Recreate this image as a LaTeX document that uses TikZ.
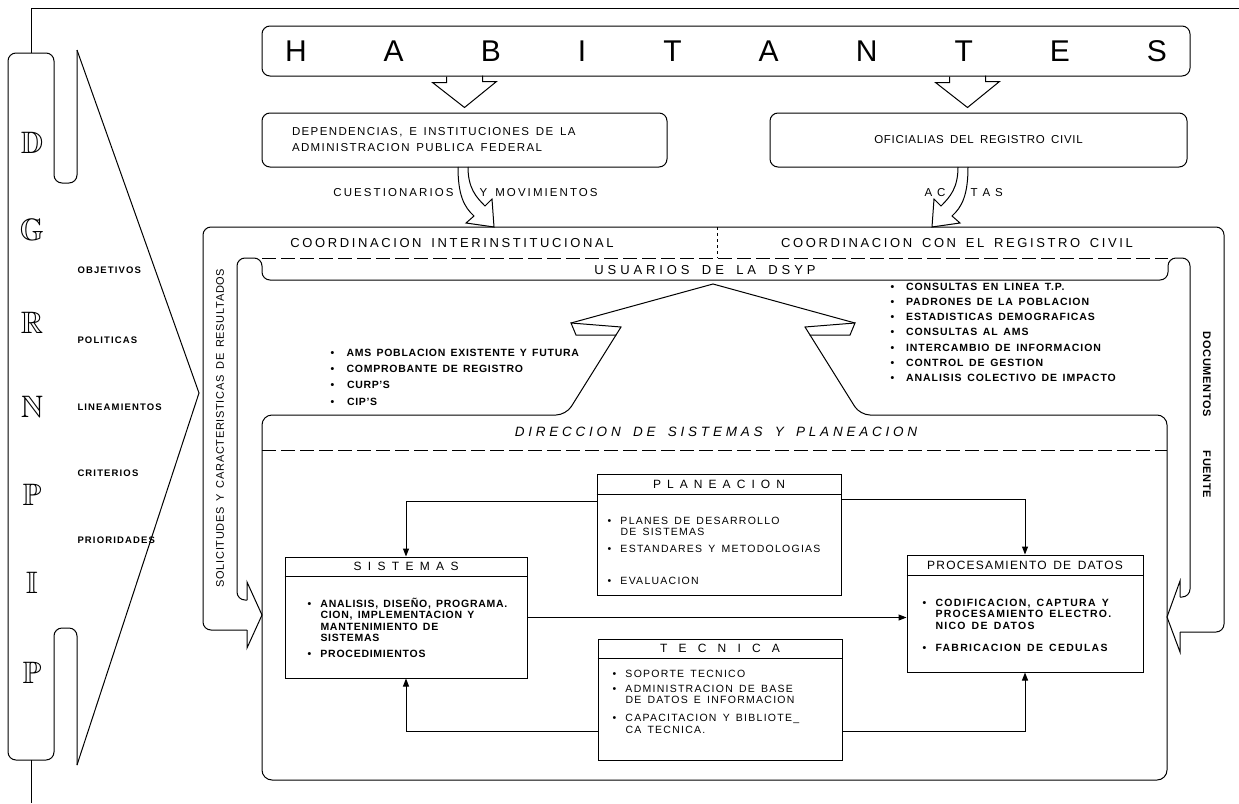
\documentclass[tikz,border=0pt]{standalone}
\usepackage{amssymb}
\usepackage{fontspec}
\setmainfont{Liberation Sans}[LetterSpace=6,WordSpace=1.6]
\usetikzlibrary{arrows.meta}
\usetikzlibrary{calc}

\newcommand{\bul}[1][13pt]{\rule{0pt}{9pt}\makebox[#1][l]{\textbullet}}
\newcommand{\ind}[1][13pt]{\rule{0pt}{9pt}\hspace*{#1}}
\newcommand{\ls}[1]{\addfontfeatures{LetterSpace=#1}\spaceskip=\dimexpr 0.35em+0.02em*#1\relax}

\tikzset{
  txt/.style={inner sep=0pt,font=\fontsize{11.5}{13}\selectfont},
  ttl/.style={inner sep=0pt,font=\fontsize{13}{15}\selectfont},
  hdr/.style={inner sep=0pt,font=\fontsize{12}{14}\selectfont},
  lst/.style={inner sep=0pt,anchor=north west,align=left,font=\bfseries\fontsize{10.5}{11.5}\selectfont},
  lstthin/.style={lst,font=\fontsize{10.5}{11.5}\selectfont},
  side/.style={inner sep=0pt,anchor=west,font=\bfseries\fontsize{9.5}{11}\selectfont},
  dgr/.style={inner sep=0pt,font=\fontsize{31}{31}\selectfont},
  ubox/.style={draw,rounded corners=8pt,inner sep=0pt},
  sbox/.style={draw,inner sep=0pt},
  flow/.style={-{Triangle[length=8pt,width=6pt]}},
}

\begin{document}
\begin{tikzpicture}[x=1pt,y=-1pt,line width=1pt]
\useasboundingbox (0,0) rectangle (1239,803);

% marco y embudo DGRNPIP
\draw (31,53) -- (31,8) -- (1239,8);
\draw (31,760) -- (31,803);
\draw[rounded corners=8pt] (77,50) -- (77,183) -- (54,183) -- (54,53) -- (8,53) -- (8,760) -- (54,760) -- (54,628) -- (77,628) -- (77,765);
\draw (77,50) -- (199,393) -- (77,765);
\foreach \l/\y/\n in {D/143/d,G/230/g,R/323/r,N/407/n,P/495/p1,I/583/i,P/673/p2}
  \node[dgr] (\n) at (32,\y) {$\mathbb{\l}$};
\foreach \t/\y/\n in {OBJETIVOS/270/obj,POLITICAS/340/pol,LINEAMIENTOS/407/lin,CRITERIOS/473/cri,PRIORIDADES/540/pri}
  \node[side] (\n) at (77,\y) {\ls{12}\t};

% habitantes y fuentes
\node[ubox,minimum width=928pt,minimum height=50pt] (hab) at (726,51)
  {\fontsize{30}{30}\selectfont\makebox[882pt]{H\hfill A\hfill B\hfill I\hfill T\hfill A\hfill N\hfill T\hfill E\hfill S}};
\node[ubox,txt,font=\fontsize{11.5}{16}\selectfont,minimum width=405pt,minimum height=54pt,text width=345pt,align=left] (dep) at (464.5,140)
  {\ls{12}DEPENDENCIAS, E INSTITUCIONES DE LA\\ \ls{12}ADMINISTRACION PUBLICA FEDERAL};
\node[ubox,txt,minimum width=417pt,minimum height=54pt] (ofi) at (978.5,140) {OFICIALIAS DEL REGISTRO CIVIL};
\coordinate (ofin) at ($(ofi.north)+(-11,0)$);
\draw ($(hab.south -| dep.north)+(-18,0)$) -- ++(0,6) -- ++(-14,0) -- ($(dep.north)+(0,-5)$) -- ++(32,-26) -- ++(-14,0) -- ++(0,-6);
\draw ($(hab.south -| ofin)+(-18,0)$) -- ++(0,6) -- ++(-14,0) -- ($(ofin)+(0,-5)$) -- ++(32,-26) -- ++(-14,0) -- ++(0,-6);

% flechas huecas a la coordinacion
\draw (458,167) .. controls (458,195) and (464,207) .. (474,216) -- (466,223) -- (494,227) -- (492,199) -- (485,206) .. controls (476,197) and (468,188) .. (468,167);
\draw (968,167) .. controls (968,195) and (962,207) .. (952,216) -- (960,223) -- (932,227) -- (934,199) -- (941,206) .. controls (950,197) and (958,188) .. (958,167);
\node[txt,anchor=east] (cue) at (454,193) {\ls{18}CUESTIONARIOS};
\node[txt,anchor=west] (mov) at (479,193) {\ls{18}Y MOVIMIENTOS};
\node[txt,anchor=east] (ac) at (946,193) {A\hspace{5pt}C};
\node[txt,anchor=west] (tas) at (970,193) {T\hspace{5pt}A\hspace{5pt}S};

% coordinacion y bandas laterales
\draw[rounded corners=8pt] (247,630) -- (203,630) -- (203,227) -- (1224,227) -- (1224,632) -- (1180,632);
\draw[rounded corners=8pt] (1180,597) -- (1190,597) -- (1190,258) -- (1168,258) -- (1168,280) -- (262,280) -- (262,258) -- (237,258) -- (237,600) -- (247,600);
\draw (247,600) -- (247,582) -- (262,615) -- (247,648) -- (247,630);
\draw (1180,597) -- (1180,581) -- (1167,617) -- (1180,652) -- (1180,632);
\draw[dash pattern=on 14pt off 5pt] (262,258) -- (1168,258);
\draw[dash pattern=on 3pt off 3pt,line width=0.6pt] (717,227) -- (717,258);
\node[ttl] (ci) at (452,243) {\ls{20}COORDINACION INTERINSTITUCIONAL};
\node[ttl] (crc) at (957,243) {\ls{20}COORDINACION CON EL REGISTRO CIVIL};
\node[ttl] (usu) at (705,270) {\ls{30}USUARIOS DE LA DSYP};
\node[txt,font=\fontsize{11}{13}\selectfont,rotate=90] (sol) at (220,428) {SOLICITUDES Y CARACTERISTICAS DE RESULTADOS};
\node[txt,font=\bfseries\fontsize{11}{13}\selectfont,rotate=-90] (doc) at (1207,415) {DOCUMENTOS\hspace{34pt}FUENTE};

% direccion y flecha a usuarios
\draw[rounded corners=10pt] (616,335) -- (566,415) -- (262,415) -- (262,780) -- (1167,780) -- (1167,415) -- (860,415) -- (810,335);
\draw (571,323) -- (713,284) -- (855,323);
\draw (571,323) -- (621,327) -- (616,335) -- (576,335) -- cycle;
\draw (855,323) -- (805,327) -- (810,335) -- (850,335) -- cycle;
\node[lst,font=\bfseries\fontsize{10.5}{16.4}\selectfont] (amsl) at (330,346.5)
  {\ls{7}\bul[11pt] AMS POBLACION EXISTENTE Y FUTURA\\ \ls{7}\bul[11pt] COMPROBANTE DE REGISTRO\\ \bul[11pt] CURP'S\\ \bul[11pt] CIP'S};
\node[lst,font=\bfseries\fontsize{10.5}{15.3}\selectfont] (conl) at (890,280.5)
  {\ls{9}\bul[10pt] CONSULTAS EN LINEA T.P.\\ \ls{9}\bul[10pt] PADRONES DE LA POBLACION\\ \ls{9}\bul[10pt] ESTADISTICAS DEMOGRAFICAS\\ \ls{9}\bul[10pt] CONSULTAS AL AMS\\ \ls{9}\bul[10pt] INTERCAMBIO DE INFORMACION\\ \ls{9}\bul[10pt] CONTROL DE GESTION\\ \ls{9}\bul[10pt] ANALISIS COLECTIVO DE IMPACTO};
\node[inner sep=0pt,font=\itshape\fontsize{13.5}{15}\selectfont] (dir) at (716,432)
  {\ls{28}DIRECCION DE SISTEMAS Y PLANEACION};
\draw[dash pattern=on 14pt off 5pt] (262,450) -- (1167,450);

% areas de la direccion
\node[sbox,minimum width=242pt,minimum height=121pt] (sis) at (406,617.5) {};
\node[sbox,minimum width=244pt,minimum height=121pt] (pla) at (719,534.5) {};
\node[sbox,minimum width=244pt,minimum height=121pt] (tec) at (720,699.5) {};
\node[sbox,minimum width=236pt,minimum height=117pt] (pro) at (1025,613.5) {};
\draw ($(sis.north west)+(0,20)$) -- ($(sis.north east)+(0,20)$);
\draw ($(pla.north west)+(0,21)$) -- ($(pla.north east)+(0,21)$);
\draw ($(tec.north west)+(0,20)$) -- ($(tec.north east)+(0,20)$);
\draw ($(pro.north west)+(0,21)$) -- ($(pro.north east)+(0,21)$);
\node[hdr] (sish) at ($(sis.north)+(0,10)$) {\makebox[105pt]{S\hfill I\hfill S\hfill T\hfill E\hfill M\hfill A\hfill S}};
\node[hdr] (plah) at ($(pla.north)+(0,10.5)$) {\makebox[132pt]{P\hfill L\hfill A\hfill N\hfill E\hfill A\hfill C\hfill I\hfill O\hfill N}};
\node[hdr] (tech) at ($(tec.north)+(0,10)$) {\makebox[120pt]{T\hfill E\hfill C\hfill N\hfill I\hfill C\hfill A}};
\node[hdr] (proh) at ($(pro.north)+(0,10.5)$) {\ls{10}PROCESAMIENTO DE DATOS};
\node[lst] (sisl) at (307,597.5)
  {\ls{7}\bul ANALISIS, DISEÑO, PROGRAMA.\\ \ls{7}\ind CION, IMPLEMENTACION Y\\ \ls{7}\ind MANTENIMIENTO DE\\ \ls{7}\ind SISTEMAS\\[4pt] \ls{7}\bul PROCEDIMIENTOS};
\node[lstthin] (plal) at (607,514.5)
  {\ls{12}\bul PLANES DE DESARROLLO\\ \ls{12}\ind DE SISTEMAS\\[5.5pt] \ls{12}\bul ESTANDARES Y METODOLOGIAS\\[20.5pt] \ls{12}\bul EVALUACION};
\node[lstthin] (tecl) at (612,667.5)
  {\ls{12}\bul SOPORTE TECNICO\\[3.5pt] \ls{12}\bul ADMINISTRACION DE BASE\\ \ls{12}\ind DE DATOS E INFORMACION\\[6.5pt] \ls{12}\bul CAPACITACION Y BIBLIOTE\_\\ \ls{12}\ind CA TECNICA.};
\node[lst] (prol) at (922,596.5)
  {\ls{12}\bul CODIFICACION, CAPTURA Y\\ \ls{12}\ind PROCESAMIENTO ELECTRO.\\ \ls{12}\ind NICO DE DATOS\\[10.5pt] \ls{12}\bul FABRICACION DE CEDULAS};

% conexiones
\draw[flow] ($(pla.north west)+(0,28)$) -| (sis.north);
\draw[flow] ($(pla.north east)+(0,26)$) -| (pro.north);
\draw[flow] (sis.east) -- (sis.east -| pro.west);
\draw[flow] ($(tec.south west)+(0,-29)$) -| (sis.south);
\draw[flow] ($(tec.south east)+(0,-29)$) -| (pro.south);
\end{tikzpicture}
\end{document}
